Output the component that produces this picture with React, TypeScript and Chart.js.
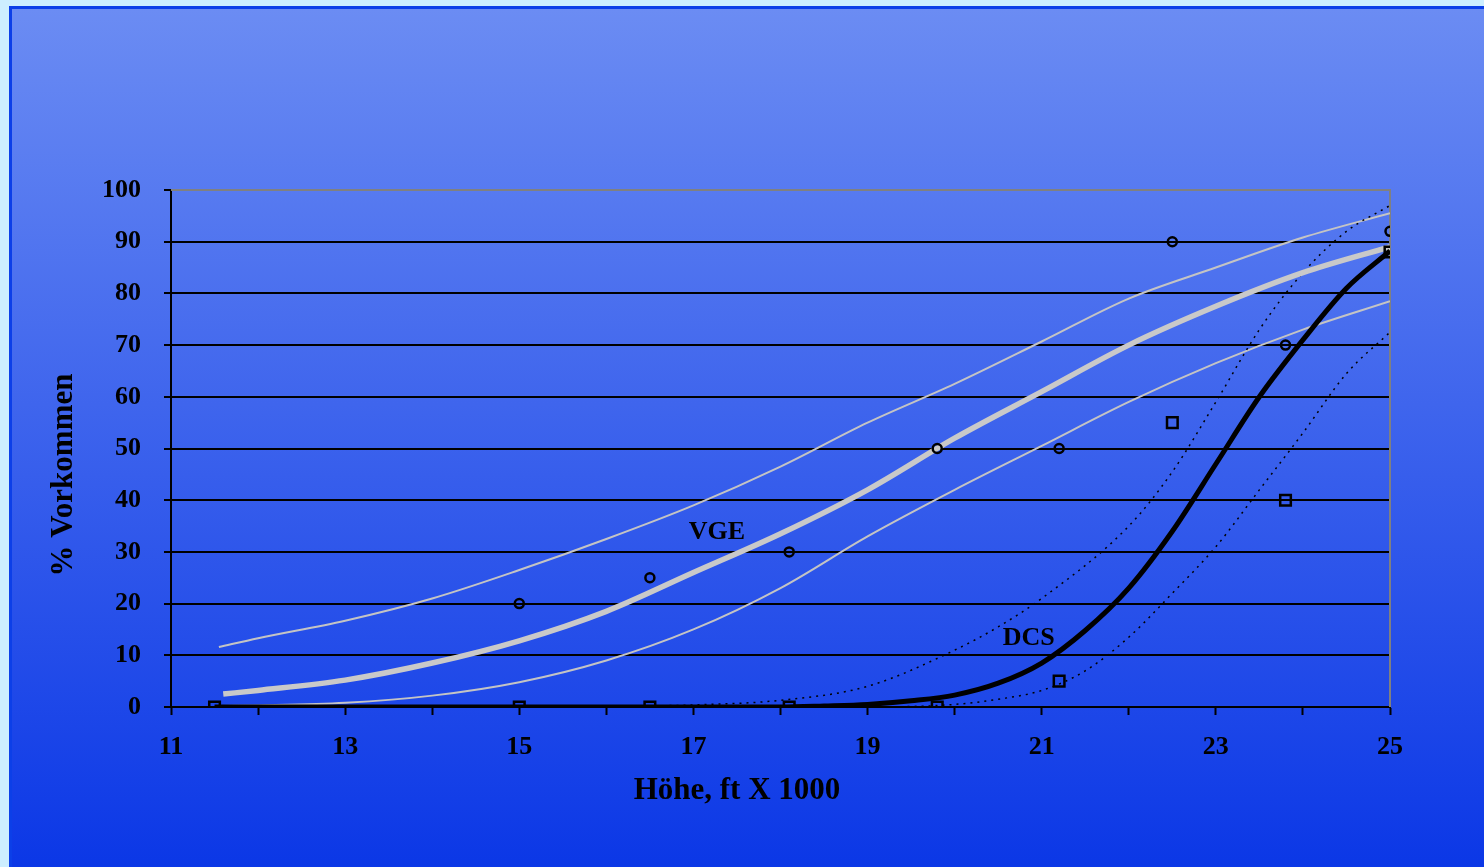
import React, { useEffect, useRef } from 'react';
import { Chart, registerables } from 'chart.js';

Chart.register(...registerables);

// ---------- data ----------
const xTickLabels = ['11', '13', '15', '17', '19', '21', '23', '25'];
const yTickLabels = ['0', '10', '20', '30', '40', '50', '60', '70', '80', '90', '100'];

const xTitle = 'Höhe, ft X 1000';
const yTitle = '% Vorkommen';
const seriesLabels = ['VGE', 'DCS'];
const labelPosX = [17.27, 20.85];
const labelPosY = [33.7, 13.2];

// observed points
const vgeObsX = [15, 16.5, 18.1, 19.8, 21.2, 22.5, 23.8, 25];
const vgeObsY = [20, 25, 30, 50, 50, 90, 70, 92];
const dcsObsX = [11.5, 15, 16.5, 18.1, 19.8, 21.2, 22.5, 23.8, 25];
const dcsObsY = [0, 0, 0, 0, 0, 5, 55, 40, 88];

// VGE fitted curve and bounds
const vgeFitX = [11.6, 12, 13, 14, 15, 16, 17, 18, 19, 20, 21, 22, 23, 24, 25];
const vgeFitY = [2.5, 3.2, 5.2, 8.5, 12.8, 18.5, 26, 33.5, 42, 52, 61, 70, 77.5, 84, 89];
const vgeUpX = [11.55, 12, 13, 14, 15, 16, 17, 18, 19, 20, 21, 22, 23, 24, 25];
const vgeUpY = [11.6, 13.3, 16.7, 21, 26.5, 32.5, 39, 46.5, 55, 62.5, 70.7, 79, 85, 90.8, 95.5];
const vgeLoX = [11.6, 12, 13, 14, 15, 16, 17, 18, 19, 20, 21, 22, 23, 24, 25];
const vgeLoY = [0.2, 0.3, 0.8, 2.2, 4.8, 9, 15, 23, 33, 42, 50.5, 59, 66.5, 73, 78.5];

// DCS fitted curve and bounds
const dcsFitX = [11.5, 13, 15, 17, 18, 18.5, 19, 19.5, 20, 20.5, 21, 21.5, 22, 22.5, 23, 23.5, 24, 24.5, 25];
const dcsFitY = [0, 0, 0, 0, 0, 0.2, 0.5, 1.2, 2.3, 4.6, 8.5, 14.8, 23, 34, 47, 60, 71, 81, 88.2];
const dcsUpX = [11.5, 13, 15, 16, 17, 18, 19, 20, 20.5, 21, 22, 22.5, 23, 23.5, 24, 24.5, 25];
const dcsUpY = [0, 0, 0, 0.1, 0.4, 1.3, 4, 11, 15.5, 21, 35, 45.5, 59, 73, 84, 92, 97];
const dcsLoX = [11.5, 13, 15, 17, 19, 20, 20.5, 21, 21.5, 22, 22.5, 23, 23.5, 24, 24.5, 25];
const dcsLoY = [0, 0, 0, 0, 0, 0.5, 1.5, 3.2, 7, 13.5, 22, 31, 42, 53, 64.5, 72.5];

const toXY = (xs: number[], ys: number[]) => xs.map((x, i) => ({ x, y: ys[i] }));

const FONT = '"Liberation Serif", "Times New Roman", serif';

const textPlugin = {
  id: 'textPlugin',
  beforeDatasetsDraw(chart: any) {
    const { ctx, chartArea } = chart;
    ctx.save();
    ctx.strokeStyle = '#808080';
    ctx.lineWidth = 2;
    ctx.beginPath();
    ctx.moveTo(chartArea.left, chartArea.top);
    ctx.lineTo(chartArea.right, chartArea.top);
    ctx.lineTo(chartArea.right, chartArea.bottom);
    ctx.stroke();
    ctx.restore();
  },
  afterDraw(chart: any) {
    const { ctx, chartArea, scales } = chart;
    ctx.save();
    ctx.fillStyle = '#000';
    ctx.textAlign = 'center';
    ctx.textBaseline = 'middle';
    ctx.font = `bold 26px ${FONT}`;
    seriesLabels.forEach((t, i) => {
      ctx.fillText(t, scales.x.getPixelForValue(labelPosX[i]), scales.y.getPixelForValue(labelPosY[i]));
    });
    ctx.font = `bold 31px ${FONT}`;
    ctx.fillText(xTitle, chartArea.left + 566, chartArea.bottom + 84);
    ctx.translate(64, chartArea.top + 285);
    ctx.rotate(-Math.PI / 2);
    ctx.fillText(yTitle, 0, 0);
    ctx.restore();
  },
};

export default function App() {
  const ref = useRef<HTMLCanvasElement>(null);

  useEffect(() => {
    document.body.style.margin = '0';
    document.body.style.background = '#cdeeff';
    const canvas = ref.current;
    if (!canvas) return;
    const chart = new Chart(canvas, {
      type: 'scatter',
      data: {
        datasets: [
          {
            label: 'VGE obs',
            data: toXY(vgeObsX, vgeObsY),
            showLine: false,
            pointStyle: 'circle',
            pointRadius: 4.5,
            pointBorderWidth: 2.5,
            pointBorderColor: '#000',
            pointBackgroundColor: 'rgba(0,0,0,0)',
          },
          {
            label: 'DCS obs',
            data: toXY(dcsObsX, dcsObsY),
            showLine: false,
            pointStyle: 'rect',
            pointRadius: 7.5,
            pointBorderWidth: 2.5,
            pointBorderColor: '#000',
            pointBackgroundColor: 'rgba(0,0,0,0)',
          },
          {
            label: 'DCS fit',
            data: toXY(dcsFitX, dcsFitY),
            showLine: true,
            pointRadius: 0,
            borderColor: '#000',
            borderWidth: 5,
            cubicInterpolationMode: 'monotone',
          },
          {
            label: 'VGE fit',
            data: toXY(vgeFitX, vgeFitY),
            showLine: true,
            pointRadius: 0,
            borderColor: '#c9c9c9',
            borderWidth: 5.5,
            cubicInterpolationMode: 'monotone',
          },
          {
            label: 'DCS upper',
            data: toXY(dcsUpX, dcsUpY),
            showLine: true,
            pointRadius: 0,
            borderColor: '#000',
            borderWidth: 1.5,
            borderDash: [2, 5],
            cubicInterpolationMode: 'monotone',
          },
          {
            label: 'DCS lower',
            data: toXY(dcsLoX, dcsLoY),
            showLine: true,
            pointRadius: 0,
            borderColor: '#000',
            borderWidth: 1.5,
            borderDash: [2, 5],
            cubicInterpolationMode: 'monotone',
          },
          {
            label: 'VGE upper',
            data: toXY(vgeUpX, vgeUpY),
            showLine: true,
            pointRadius: 0,
            borderColor: '#c4c4c4',
            borderWidth: 2,
            cubicInterpolationMode: 'monotone',
          },
          {
            label: 'VGE lower',
            data: toXY(vgeLoX, vgeLoY),
            showLine: true,
            pointRadius: 0,
            borderColor: '#c4c4c4',
            borderWidth: 2,
            cubicInterpolationMode: 'monotone',
          },
        ],
      },
      options: {
        responsive: false,
        animation: false,
        devicePixelRatio: 1,
        layout: { padding: { left: 0, top: 190, right: 94, bottom: 0 } },
        plugins: { legend: { display: false }, tooltip: { enabled: false }, title: { display: false } },
        scales: {
          x: {
            type: 'linear',
            min: 11,
            max: 25,
            afterFit: (s: any) => { s.height = 160; },
            border: { display: true, color: '#000', width: 2 },
            grid: { drawOnChartArea: false, drawTicks: true, tickLength: 8, tickColor: '#000', tickWidth: 2 },
            ticks: {
              stepSize: 1,
              autoSkip: false,
              maxRotation: 0,
              padding: 17,
              color: '#000',
              font: { family: FONT, size: 26, weight: 'bold' },
              callback: (v: any) => (xTickLabels.includes(String(v)) ? String(v) : ''),
            },
          },
          y: {
            type: 'linear',
            min: 0,
            max: 100,
            afterFit: (s: any) => { s.width = 171; },
            border: { display: true, color: '#000', width: 2 },
            grid: { color: '#000', lineWidth: 2, drawTicks: true, tickLength: 7, tickColor: '#000', tickWidth: 2 },
            ticks: {
              stepSize: 10,
              padding: 23,
              color: '#000',
              font: { family: FONT, size: 26, weight: 'bold' },
              callback: (v: any) => (yTickLabels.includes(String(v)) ? String(v) : ''),
            },
          },
        },
      } as any,
      plugins: [textPlugin],
    });
    return () => chart.destroy();
  }, []);

  return (
    <div style={{ position: 'relative', width: 1484, height: 867, overflow: 'hidden', background: '#cdeeff' }}>
      <div
        style={{
          position: 'absolute',
          left: 9,
          top: 6,
          width: 1500,
          height: 900,
          boxSizing: 'border-box',
          borderLeft: '3px solid #0c3fe8',
          borderTop: '3px solid #0c3fe8',
          background: 'linear-gradient(to bottom, #6b8cf3 0px, #0b37e6 861px)',
        }}
      />
      <canvas ref={ref} width={1484} height={867} style={{ position: 'absolute', left: 0, top: 0 }} />
    </div>
  );
}
